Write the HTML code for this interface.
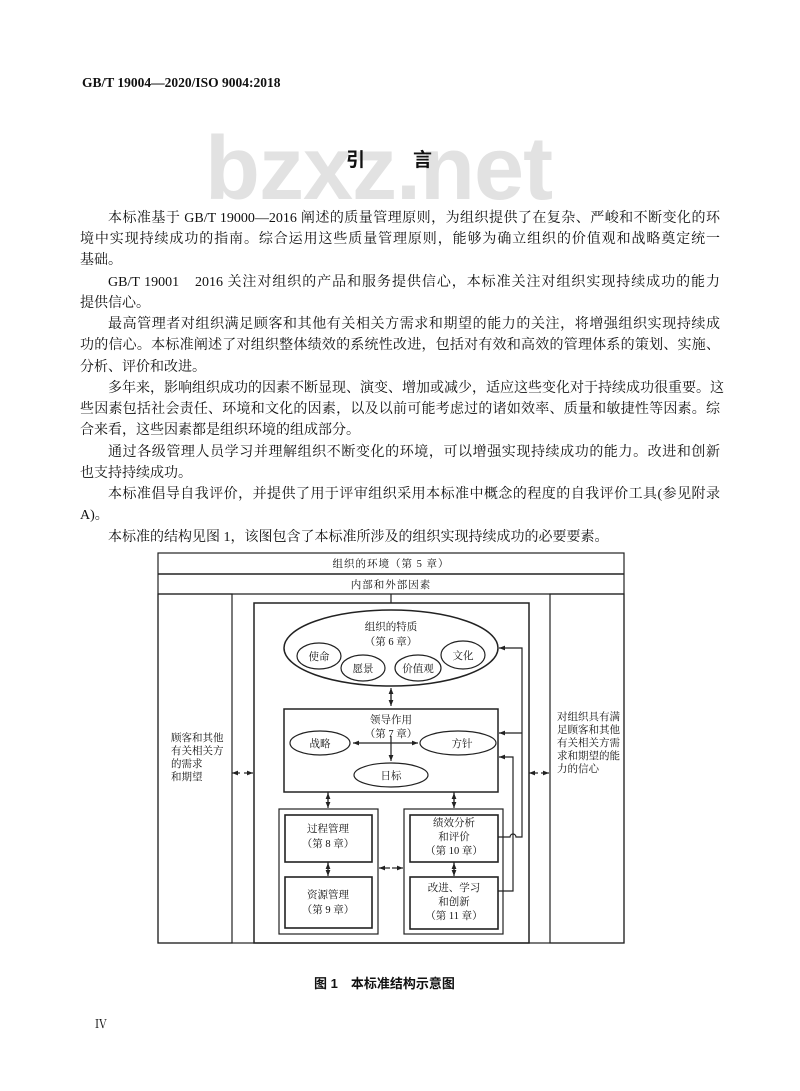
<!DOCTYPE html>
<html><head><meta charset="utf-8">
<style>
html,body{margin:0;padding:0;background:#fff;}
body{width:800px;height:1091px;position:relative;overflow:hidden;font-family:"Liberation Serif","Noto Serif CJK SC","Noto Sans CJK SC",serif;color:#111;}
.a{position:absolute;white-space:nowrap;}
.ln{position:absolute;left:80px;width:640px;font-size:14px;line-height:16px;white-space:nowrap;text-align:justify;text-align-last:justify;}
.ln.i{left:108px;width:612px;}
.ln.e{text-align-last:left;}
</style></head><body>
<div class="a" style="left:205px;top:118px;font-family:'Liberation Sans',sans-serif;font-weight:bold;font-size:90px;color:#e2e2e2;letter-spacing:-1px;">bzxz.net</div>
<div class="a" style="left:82px;top:75px;font-size:13.5px;font-weight:bold;">GB/T 19004—2020/ISO 9004:2018</div>
<div class="a" style="left:346px;top:145px;font-size:19px;font-weight:bold;font-family:'Liberation Sans','Noto Sans CJK SC',sans-serif;">引</div>
<div class="a" style="left:413px;top:145px;font-size:19px;font-weight:bold;font-family:'Liberation Sans','Noto Sans CJK SC',sans-serif;">言</div>

<div class="ln i" style="top:211px">本标准基于 GB/T 19000—2016 阐述的质量管理原则，为组织提供了在复杂、严峻和不断变化的环</div>
<div class="ln" style="top:232px">境中实现持续成功的指南。综合运用这些质量管理原则，能够为确立组织的价值观和战略奠定统一</div>
<div class="ln e" style="top:253px">基础。</div>
<div class="ln i" style="top:275px">GB/T 19001　2016 关注对组织的产品和服务提供信心，本标准关注对组织实现持续成功的能力</div>
<div class="ln e" style="top:296px">提供信心。</div>
<div class="ln i" style="top:317px">最高管理者对组织满足顾客和其他有关相关方需求和期望的能力的关注，将增强组织实现持续成</div>
<div class="ln" style="top:338px">功的信心。本标准阐述了对组织整体绩效的系统性改进，包括对有效和高效的管理体系的策划、实施、</div>
<div class="ln e" style="top:360px">分析、评价和改进。</div>
<div class="ln i" style="top:381px">多年来，影响组织成功的因素不断显现、演变、增加或减少，适应这些变化对于持续成功很重要。这</div>
<div class="ln" style="top:402px">些因素包括社会责任、环境和文化的因素，以及以前可能考虑过的诸如效率、质量和敏捷性等因素。综</div>
<div class="ln e" style="top:423px">合来看，这些因素都是组织环境的组成部分。</div>
<div class="ln i" style="top:445px">通过各级管理人员学习并理解组织不断变化的环境，可以增强实现持续成功的能力。改进和创新</div>
<div class="ln e" style="top:466px">也支持持续成功。</div>
<div class="ln i" style="top:487px">本标准倡导自我评价，并提供了用于评审组织采用本标准中概念的程度的自我评价工具(参见附录</div>
<div class="ln e" style="top:508px">A)。</div>
<div class="ln i e" style="top:530px">本标准的结构见图 1，该图包含了本标准所涉及的组织实现持续成功的必要要素。</div>

<svg class="a" style="left:0;top:0" width="800" height="1091" xmlns="http://www.w3.org/2000/svg" font-family="'Liberation Serif','Noto Serif CJK SC',serif" font-size="10" fill="#111">
<defs><marker id="ar" markerWidth="6" markerHeight="6" refX="5" refY="3" orient="auto"><path d="M0,1 L5,3 L0,5 z" fill="#222"/></marker></defs>
<g stroke="#222" fill="none" stroke-width="1.2">
<rect x="158" y="553" width="466" height="390"/>
<line x1="158" y1="574" x2="624" y2="574" stroke-width="1.6"/>
<line x1="158" y1="594" x2="624" y2="594"/>
<rect x="158" y="594" width="74" height="349"/>
<rect x="550" y="594" width="74" height="349"/>
<rect x="254" y="603" width="275" height="340" stroke-width="1.5"/>
<line x1="391" y1="594" x2="391" y2="603"/>
<ellipse cx="391" cy="648" rx="107" ry="38" stroke-width="1.5"/>
<ellipse cx="319" cy="656" rx="22" ry="13"/>
<ellipse cx="363" cy="668" rx="22" ry="13"/>
<ellipse cx="418" cy="668" rx="23" ry="13"/>
<ellipse cx="463" cy="655" rx="22" ry="14"/>
<line x1="391" y1="690" x2="391" y2="706" marker-end="url(#ar)"/>
<line x1="391" y1="700" x2="391" y2="688" marker-end="url(#ar)"/>
<rect x="284" y="709" width="214" height="83" stroke-width="1.5"/>
<ellipse cx="320" cy="743" rx="30" ry="12"/>
<ellipse cx="458" cy="743" rx="38" ry="12"/>
<ellipse cx="391" cy="775" rx="37" ry="12"/>
<line x1="391" y1="743" x2="353" y2="743" marker-end="url(#ar)"/>
<line x1="391" y1="743" x2="418" y2="743" marker-end="url(#ar)"/>
<line x1="391" y1="736" x2="391" y2="761" marker-end="url(#ar)"/>
<line x1="240" y1="773" x2="232" y2="773" marker-end="url(#ar)"/>
<line x1="244" y1="773" x2="253" y2="773" marker-end="url(#ar)"/>
<line x1="538" y1="773" x2="529" y2="773" marker-end="url(#ar)"/>
<line x1="541" y1="773" x2="549" y2="773" marker-end="url(#ar)"/>
<line x1="328" y1="792" x2="328" y2="808" marker-end="url(#ar)"/>
<line x1="328" y1="803" x2="328" y2="793" marker-end="url(#ar)"/>
<line x1="454" y1="792" x2="454" y2="808" marker-end="url(#ar)"/>
<line x1="454" y1="803" x2="454" y2="793" marker-end="url(#ar)"/>
<rect x="279" y="809" width="99" height="125"/>
<rect x="285" y="815" width="87" height="47" stroke-width="1.6"/>
<rect x="285" y="877" width="87" height="51" stroke-width="1.6"/>
<line x1="328" y1="862" x2="328" y2="876" marker-end="url(#ar)"/>
<line x1="328" y1="872" x2="328" y2="863" marker-end="url(#ar)"/>
<rect x="404" y="809" width="99" height="125"/>
<rect x="410" y="815" width="88" height="47" stroke-width="1.6"/>
<rect x="410" y="877" width="88" height="52" stroke-width="1.6"/>
<line x1="454" y1="862" x2="454" y2="876" marker-end="url(#ar)"/>
<line x1="454" y1="872" x2="454" y2="863" marker-end="url(#ar)"/>
<line x1="390" y1="868" x2="379" y2="868" marker-end="url(#ar)"/>
<line x1="392" y1="868" x2="403" y2="868" marker-end="url(#ar)"/>
<path d="M498,837 L510,837 A3,3 0 0 1 516,837 L522,837 L522,648 L499,648" marker-end="url(#ar)"/>
<line x1="522" y1="733" x2="499" y2="733" marker-end="url(#ar)"/>
<path d="M498,891 L513,891 L513,757 L499,757" marker-end="url(#ar)"/>
</g>
<g font-family="'Liberation Serif','Noto Serif CJK SC',serif" text-anchor="middle" font-size="10.5">
<text x="391" y="567" letter-spacing="1">组织的环境（第 5 章）</text>
<text x="391" y="588" letter-spacing="1">内部和外部因素</text>
<text x="391" y="630">组织的特质</text>
<text x="391" y="645">（第 6 章）</text>
<text x="319" y="660">使命</text>
<text x="363" y="672">愿景</text>
<text x="418" y="672">价值观</text>
<text x="463" y="659">文化</text>
<text x="391" y="723">领导作用</text>
<text x="391" y="737">（第 7 章）</text>
<text x="320" y="747">战略</text>
<text x="462" y="747">方针</text>
<text x="391" y="779">日标</text>
<text x="328" y="832">过程管理</text>
<text x="328" y="847">（第 8 章）</text>
<text x="328" y="898">资源管理</text>
<text x="328" y="913">（第 9 章）</text>
<text x="454" y="826">绩效分析</text>
<text x="454" y="840">和评价</text>
<text x="454" y="854">（第 10 章）</text>
<text x="454" y="891">改进、学习</text>
<text x="454" y="905">和创新</text>
<text x="454" y="919">（第 11 章）</text>
</g>
<g font-size="10.5">
<text x="171" y="741">顾客和其他</text>
<text x="171" y="754">有关相关方</text>
<text x="171" y="767">的需求</text>
<text x="171" y="780">和期望</text>
<text x="557" y="720">对组织具有满</text>
<text x="557" y="733">足顾客和其他</text>
<text x="557" y="746">有关相关方需</text>
<text x="557" y="759">求和期望的能</text>
<text x="557" y="772">力的信心</text>
</g>
<text x="314" y="988" font-size="13" font-weight="bold" font-family="'Liberation Sans','Noto Sans CJK SC',sans-serif">图 1　本标准结构示意图</text>
<text x="95" y="1028" font-size="12">Ⅳ</text>
</svg>
</body></html>
